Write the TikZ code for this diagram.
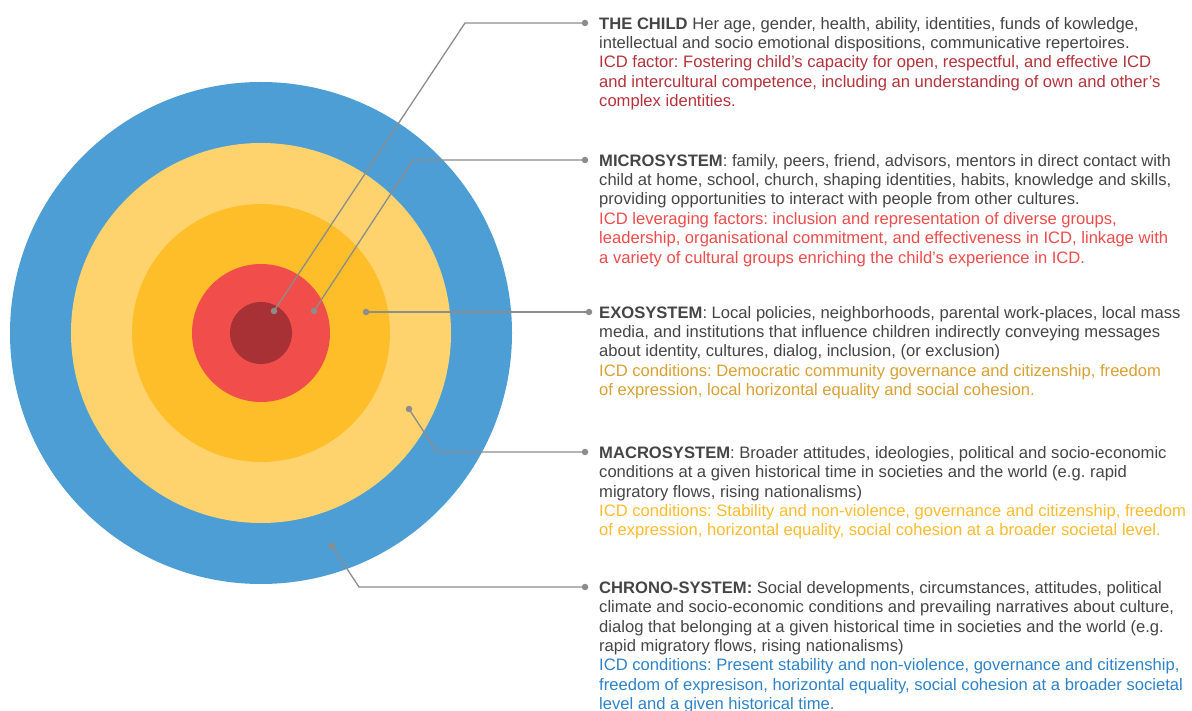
\documentclass[tikz,border=0pt]{standalone}
\usepackage{fontspec}
\setmainfont{Liberation Sans}
\frenchspacing
\definecolor{blueC}{HTML}{4E9ED6}
\definecolor{yellowL}{HTML}{FED36E}
\definecolor{orangeC}{HTML}{FDBE2A}
\definecolor{redC}{HTML}{F04D4B}
\definecolor{darkredC}{HTML}{A83136}
\definecolor{lineC}{HTML}{8C8C8C}
\definecolor{txtC}{HTML}{454545}
\definecolor{childT}{HTML}{B5323A}
\definecolor{microT}{HTML}{EE4B4B}
\definecolor{exoT}{HTML}{D9A032}
\definecolor{macroT}{HTML}{FDBB2D}
\definecolor{chronoT}{HTML}{2E82C8}
\begin{document}
\begin{tikzpicture}[x=1pt,y=-1pt,
  ring/.style={circle, inner sep=0pt, draw=none},
  conn/.style={draw=lineC, line width=1.3pt},
  pin/.style={circle, fill=lineC, inner sep=0pt, minimum size=6.5pt},
  txt/.style={anchor=north west, inner sep=0pt, align=left, font=\fontsize{16.6}{19.4}\selectfont\frenchspacing, text=txtC}
]
\useasboundingbox (0,0) rectangle (1192,711);
\coordinate (c) at (261,333);
\node[ring, fill=blueC, minimum size=502pt] (chrono) at (c) {};
\node[ring, fill=yellowL, minimum size=380pt] (macro) at (c) {};
\node[ring, fill=orangeC, minimum size=258pt] (exo) at (c) {};
\node[ring, fill=redC, minimum size=138pt] (micro) at (c) {};
\node[ring, fill=darkredC, minimum size=62pt] (child) at (c) {};

% connectors
\node[pin] (childIn) at (274,311) {};
\coordinate (childEl) at (465,23);
\node[pin] (childOut) at (585,23) {};
\draw[conn] (childIn.center) -- (childEl) -- (childOut.center);

\node[pin] (microIn) at (314,311) {};
\coordinate (microEl) at (413,160);
\node[pin] (microOut) at (585,160) {};
\draw[conn] (microIn.center) -- (microEl) -- (microOut.center);

\node[pin] (exoIn) at (366,312) {};
\node[pin] (exoOut) at (589,312) {};
\draw[conn] (exoIn.center) -- (exoOut.center);

\node[pin] (macroIn) at (409,409) {};
\coordinate (macroEl) at (437,452);
\node[pin] (macroOut) at (585,452) {};
\draw[conn] (macroIn.center) -- (macroEl) -- (macroOut.center);

\node[pin] (chronoIn) at (332,546) {};
\coordinate (chronoEl) at (359,587);
\node[pin] (chronoOut) at (585,587) {};
\draw[conn] (chronoIn.center) -- (chronoEl) -- (chronoOut.center);

% texts
\node[txt] (tChild) at (599,16) {\rule{0pt}{13pt}\textbf{THE CHILD} Her age, gender, health, ability, identities, funds of kowledge,\\
intellectual and socio emotional dispositions, communicative repertoires.\\
\textcolor{childT}{ICD factor: Fostering child’s capacity for open, respectful, and effective ICD}\\
\textcolor{childT}{and intercultural competence, including an understanding of own and other’s}\\
\textcolor{childT}{complex identities.}};

\node[txt] (tMicro) at (599,153) {\rule{0pt}{13pt}\textbf{MICROSYSTEM}: family, peers, friend, advisors, mentors in direct contact with\\
child at home, school, church, shaping identities, habits, knowledge and skills,\\
providing opportunities to interact with people from other cultures.\\
\textcolor{microT}{ICD leveraging factors: inclusion and representation of diverse groups,}\\
\textcolor{microT}{leadership, organisational commitment, and effectiveness in ICD, linkage with}\\
\textcolor{microT}{a variety of cultural groups enriching the child’s experience in ICD.}};

\node[txt] (tExo) at (599,305) {\rule{0pt}{13pt}\textbf{EXOSYSTEM}: Local policies, neighborhoods, parental work-places, local mass\\
media, and institutions that influence children indirectly conveying messages\\
about identity, cultures, dialog, inclusion, (or exclusion)\\
\textcolor{exoT}{ICD conditions: Democratic community governance and citizenship, freedom}\\
\textcolor{exoT}{of expression, local horizontal equality and social cohesion.}};

\node[txt] (tMacro) at (599,445) {\rule{0pt}{13pt}\textbf{MACROSYSTEM}: Broader attitudes, ideologies, political and socio-economic\\
conditions at a given historical time in societies and the world (e.g. rapid\\
migratory flows, rising nationalisms)\\
\textcolor{macroT}{ICD conditions: Stability and non-violence, governance and citizenship, freedom}\\
\textcolor{macroT}{of expression, horizontal equality, social cohesion at a broader societal level.}};

\node[txt] (tChrono) at (599,580) {\rule{0pt}{13pt}\textbf{CHRONO-SYSTEM:} Social developments, circumstances, attitudes, political\\
climate and socio-economic conditions and prevailing narratives about culture,\\
dialog that belonging at a given historical time in societies and the world (e.g.\\
rapid migratory flows, rising nationalisms)\\
\textcolor{chronoT}{ICD conditions: Present stability and non-violence, governance and citizenship,}\\
\textcolor{chronoT}{freedom of expresison, horizontal equality, social cohesion at a broader societal}\\
\textcolor{chronoT}{level and a given historical time.}};
\end{tikzpicture}
\end{document}
